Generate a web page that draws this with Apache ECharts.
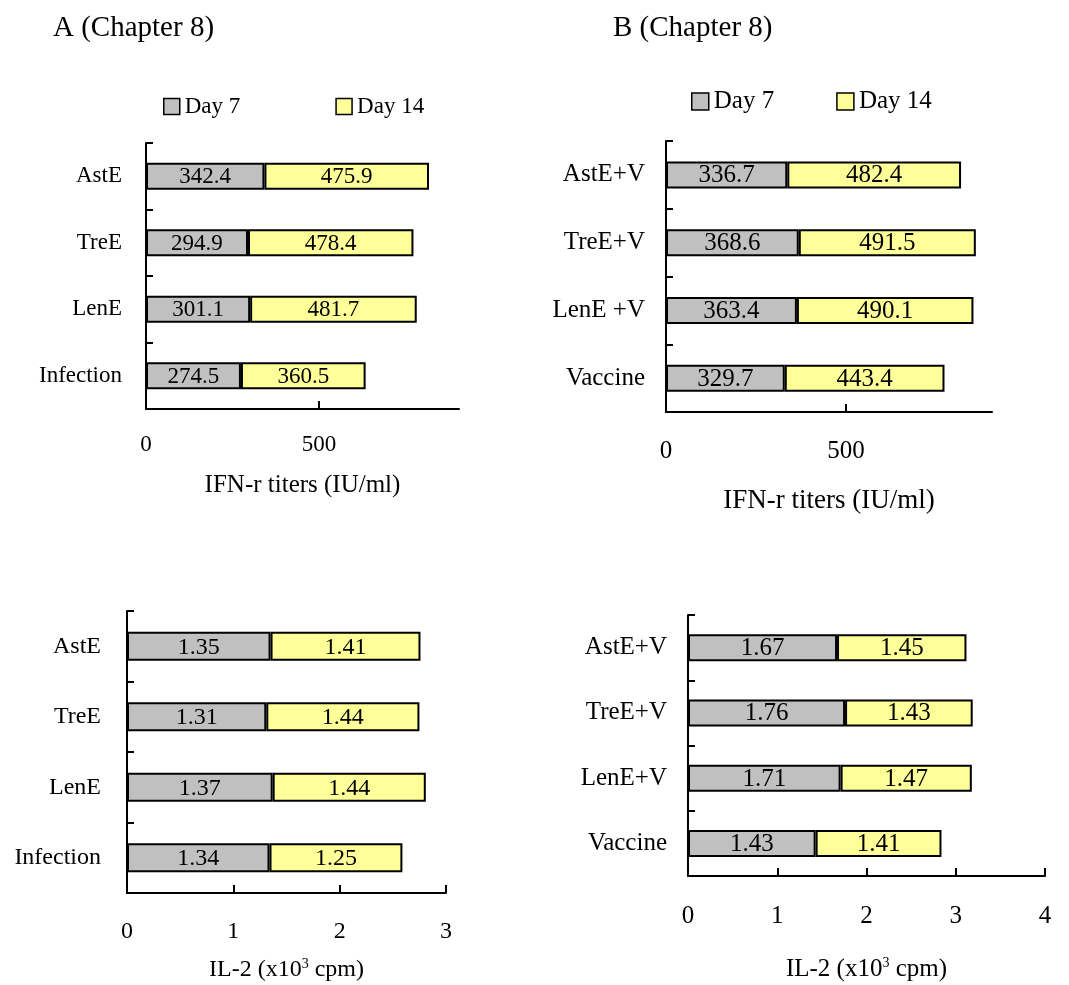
<!DOCTYPE html>
<html lang="en">
<head>
    <meta charset="UTF-8">
    <title>IFN-r and IL-2 (Chapter 8)</title>
    <script src="https://cdn.jsdelivr.net/npm/echarts@6/dist/echarts.min.js"></script>
</head>
<body style="margin:0;background:#fff">
<div id="myChart" style="width: 1069px;height: 985px"></div>
</body>
<script>
    // panel A / C categories (Chapter 8, no vaccine)
    var catsA = ['AstE', 'TreE', 'LenE', 'Infection'];
    var catsC = ['AstE', 'TreE', 'LenE', 'Infection'];
    // panel B / D categories (with vaccine)
    var catsB = ['AstE+V', 'TreE+V', 'LenE +V', 'Vaccine'];
    var catsD = ['AstE+V', 'TreE+V', 'LenE+V', 'Vaccine'];

    // IFN-r titers (IU/ml)
    var ifnA7 = [342.4, 294.9, 301.1, 274.5];
    var ifnA14 = [475.9, 478.4, 481.7, 360.5];
    var ifnB7 = [336.7, 368.6, 363.4, 329.7];
    var ifnB14 = [482.4, 491.5, 490.1, 443.4];

    // IL-2 (x10^3 cpm)
    var il2C7 = [1.35, 1.31, 1.37, 1.34];
    var il2C14 = [1.41, 1.44, 1.44, 1.25];
    var il2D7 = [1.67, 1.76, 1.71, 1.43];
    var il2D14 = [1.45, 1.43, 1.47, 1.41];

    // x axis ticks
    var ticksIfn = [0, 500];
    var ticksIl2C = [0, 1, 2, 3];
    var ticksIl2D = [0, 1, 2, 3, 4];

    var font = '"Liberation Serif", "Times New Roman", serif';
    var grey = '#c0c0c0';
    var yellow = '#ffff99';

    var myChart = echarts.init(document.getElementById('myChart'));

    var grids = [];
    var xAxes = [];
    var yAxes = [];
    var series = [];

    // one stacked bar panel
    function panel(i, p) {
        grids.push({left: p.left, top: p.top, width: p.width, height: p.height});
        xAxes.push({
            type: 'value', gridIndex: i, min: 0, max: p.max, interval: p.interval,
            axisLine: {show: true, lineStyle: {color: '#000', width: 2}},
            axisTick: {show: true, inside: true, length: 8, customValues: p.ticks, lineStyle: {color: '#000', width: 2}},
            axisLabel: {customValues: p.ticks, color: '#000', fontFamily: font, fontSize: p.fs, margin: p.labelMargin},
            splitLine: {show: false},
            name: p.name, nameLocation: 'middle', nameGap: p.nameGap,
            nameTextStyle: {
                color: '#000', fontFamily: font, fontSize: p.nameFs, verticalAlign: 'top',
                rich: {
                    n: {color: '#000', fontFamily: font, fontSize: p.nameFs, lineHeight: p.nameFs + 2},
                    sup: {color: '#000', fontFamily: font, fontSize: 14, verticalAlign: 'top', lineHeight: p.nameFs + 2}
                }
            }
        });
        yAxes.push({
            type: 'category', gridIndex: i, data: p.cats, inverse: true,
            axisLine: {show: true, lineStyle: {color: '#000', width: 2}},
            axisTick: {show: true, inside: true, length: 7, lineStyle: {color: '#000', width: 2}},
            axisLabel: {color: '#000', fontFamily: font, fontSize: p.fs, margin: p.catMargin}
        });
        var lab = {show: true, position: 'inside', offset: [0, 1], color: '#000', fontFamily: font, fontSize: p.fs};
        series.push({
            name: 'Day 7', type: 'bar', stack: 's' + i, xAxisIndex: i, yAxisIndex: i,
            barWidth: p.barWidth, data: p.d7, label: lab,
            itemStyle: {color: grey, borderColor: '#000', borderWidth: 2}
        });
        series.push({
            name: 'Day 14', type: 'bar', stack: 's' + i, xAxisIndex: i, yAxisIndex: i,
            barWidth: p.barWidth, data: p.d14, label: lab,
            itemStyle: {color: yellow, borderColor: '#000', borderWidth: 2}
        });
    }

    panel(0, {left: 146, top: 143, width: 313, height: 266, max: 905, interval: 500, ticks: ticksIfn,
        cats: catsA, d7: ifnA7, d14: ifnA14, fs: 23, labelMargin: 24, catMargin: 24, barWidth: 27,
        name: 'IFN-r titers (IU/ml)', nameFs: 25, nameGap: 64});
    panel(1, {left: 666, top: 141, width: 326, height: 271, max: 905, interval: 500, ticks: ticksIfn,
        cats: catsB, d7: ifnB7, d14: ifnB14, fs: 25, labelMargin: 27, catMargin: 21, barWidth: 27,
        name: 'IFN-r titers (IU/ml)', nameFs: 27, nameGap: 75});
    panel(2, {left: 127, top: 611, width: 319, height: 282, max: 3, interval: 1, ticks: ticksIl2C,
        cats: catsC, d7: il2C7, d14: il2C14, fs: 24, labelMargin: 27, catMargin: 26, barWidth: 29,
        name: '{n|IL-2 (x10}{sup|3}{n| cpm)}', nameFs: 24, nameGap: 64});
    panel(3, {left: 688, top: 615, width: 357, height: 261, max: 4, interval: 1, ticks: ticksIl2D,
        cats: catsD, d7: il2D7, d14: il2D14, fs: 25, labelMargin: 28, catMargin: 21, barWidth: 27,
        name: '{n|IL-2 (x10}{sup|3}{n| cpm)}', nameFs: 25, nameGap: 80});

    myChart.setOption({
        animation: false,
        //标题
        title: [
            {text: 'A (Chapter 8)', left: 48, top: 9, textStyle: {fontFamily: font, fontSize: 29, fontWeight: 'normal', color: '#000'}},
            {text: 'B (Chapter 8)', left: 608, top: 9, textStyle: {fontFamily: font, fontSize: 29, fontWeight: 'normal', color: '#000'}}
        ],
        //图例
        legend: [
            {data: ['Day 7', 'Day 14'], left: 158, top: 90, icon: 'rect', itemWidth: 16, itemHeight: 16, itemGap: 95,
                itemStyle: {borderColor: '#000', borderWidth: 1.5},
                textStyle: {fontFamily: font, fontSize: 23, color: '#000'}},
            {data: ['Day 7', 'Day 14'], left: 686, top: 84, icon: 'rect', itemWidth: 17, itemHeight: 17, itemGap: 62,
                itemStyle: {borderColor: '#000', borderWidth: 1.5},
                textStyle: {fontFamily: font, fontSize: 25, color: '#000'}}
        ],
        grid: grids,
        xAxis: xAxes,
        yAxis: yAxes,
        series: series
    });
</script>
</html>
